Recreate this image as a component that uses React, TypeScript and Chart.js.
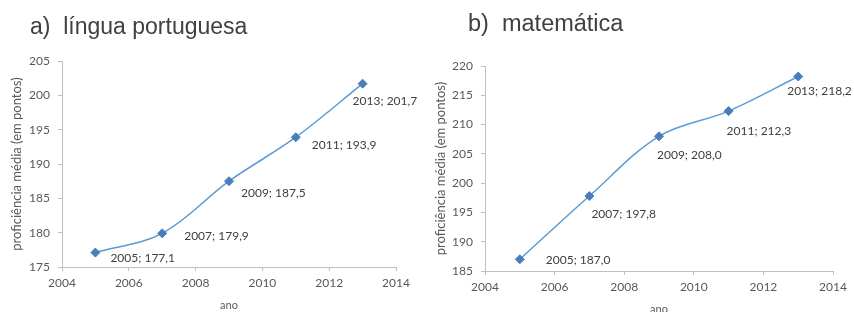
import React, { useEffect, useRef } from "react";
import { Chart, registerables } from "chart.js";

Chart.register(...registerables);

const years = [2005, 2007, 2009, 2011, 2013];
const portuguesaValues = [177.1, 179.9, 187.5, 193.9, 201.7];
const matematicaValues = [187.0, 197.8, 208.0, 212.3, 218.2];
const xTickValues = [2004, 2006, 2008, 2010, 2012, 2014];
const portuguesaYTicks = [175, 180, 185, 190, 195, 200, 205];
const matematicaYTicks = [185, 190, 195, 200, 205, 210, 215, 220];
const yAxisTitle = "proficiência média (em pontos)";
const xAxisTitle = "ano";
const titleA = "a)  língua portuguesa";
const titleB = "b)  matemática";

const FONT = "Lato, 'Open Sans', sans-serif";
const AXIS_COLOR = "#bfbfbf";
const TICK_COLOR = "#595959";
const LABEL_COLOR = "#404040";

type Geom = {
  yAxisWidth: number;
  xAxisHeight: number;
  padTop: number;
  padRight: number;
  yTitlePad: number;
  xTitlePad: number;
};

type PanelProps = {
  left: number;
  values: number[];
  yTicks: number[];
  geom: Geom;
  offsets: number[][];
};

function Panel({ left, values, yTicks, geom, offsets }: PanelProps) {
  const ref = useRef<HTMLCanvasElement>(null);
  useEffect(() => {
    if (!ref.current) return;
    const labelPlugin = {
      id: "pointLabels",
      afterDatasetsDraw(chart: any) {
        const ctx = chart.ctx;
        const meta = chart.getDatasetMeta(0);
        ctx.save();
        ctx.font = `12px ${FONT}`;
        ctx.fillStyle = LABEL_COLOR;
        ctx.textAlign = "left";
        ctx.textBaseline = "middle";
        meta.data.forEach((pt: any, i: number) => {
          const text = `${years[i]}; ${values[i].toFixed(1).replace(".", ",")}`;
          ctx.fillText(text, pt.x + offsets[i][0], pt.y + offsets[i][1]);
        });
        ctx.restore();
      },
    };
    const chart = new Chart(ref.current, {
      type: "line",
      data: {
        datasets: [
          {
            data: years.map((y, i) => ({ x: y, y: values[i] })),
            borderColor: "#5b9bd5",
            borderWidth: 1.5,
            tension: 0.35,
            pointStyle: "rectRot",
            pointRadius: 4.5,
            pointBackgroundColor: "#4a7ebb",
            pointBorderColor: "#4a7ebb",
            pointBorderWidth: 1,
          },
        ],
      },
      options: {
        responsive: false,
        animation: false,
        devicePixelRatio: 1,
        layout: {
          padding: { top: geom.padTop, right: geom.padRight, left: 0, bottom: 0 },
        },
        plugins: {
          legend: { display: false },
          tooltip: { enabled: false },
          title: { display: false },
        },
        scales: {
          x: {
            type: "linear",
            min: xTickValues[0],
            max: xTickValues[xTickValues.length - 1],
            afterBuildTicks: (s: any) => {
              s.ticks = xTickValues.map((v) => ({ value: v }));
            },
            afterFit: (s: any) => {
              s.height = geom.xAxisHeight;
            },
            ticks: {
              callback: (v: any) => String(v),
              color: TICK_COLOR,
              font: { family: FONT, size: 12 },
              padding: 5,
              maxRotation: 0,
              autoSkip: false,
            },
            grid: { drawOnChartArea: false, tickLength: 4, color: AXIS_COLOR },
            border: { color: AXIS_COLOR },
            title: {
              display: true,
              text: xAxisTitle,
              color: TICK_COLOR,
              font: { family: FONT, size: 11 },
              padding: { top: 0, bottom: geom.xTitlePad },
            },
          },
          y: {
            type: "linear",
            min: yTicks[0],
            max: yTicks[yTicks.length - 1],
            afterBuildTicks: (s: any) => {
              s.ticks = yTicks.map((v) => ({ value: v }));
            },
            afterFit: (s: any) => {
              s.width = geom.yAxisWidth;
            },
            ticks: {
              callback: (v: any) => String(v),
              color: TICK_COLOR,
              font: { family: FONT, size: 12 },
              padding: 8,
              autoSkip: false,
            },
            grid: { drawOnChartArea: false, tickLength: 4, color: AXIS_COLOR },
            border: { color: AXIS_COLOR },
            title: {
              display: true,
              text: yAxisTitle,
              color: TICK_COLOR,
              font: { family: FONT, size: 13 },
              padding: { top: geom.yTitlePad, bottom: 0 },
            },
          },
        },
      },
      plugins: [labelPlugin],
    } as any);
    return () => chart.destroy();
  }, []);
  return (
    <canvas
      ref={ref}
      width={427}
      height={312}
      style={{ position: "absolute", left, top: 0, width: 427, height: 312 }}
    />
  );
}

const titleStyle: React.CSSProperties = {
  position: "absolute",
  fontFamily: "'Liberation Sans', Arial, sans-serif",
  fontSize: 23,
  lineHeight: 1,
  color: "#404040",
  whiteSpace: "pre",
};

export default function App() {
  return (
    <div
      style={{
        position: "absolute",
        left: 0,
        top: 0,
        width: 854,
        height: 312,
        background: "#ffffff",
        overflow: "hidden",
      }}
    >
      <Panel
        left={0}
        values={portuguesaValues}
        yTicks={portuguesaYTicks}
        geom={{ yAxisWidth: 62, xAxisHeight: 45, padTop: 61, padRight: 31, yTitlePad: 9, xTitlePad: 0 }}
        offsets={[
          [15, 6],
          [22, 3],
          [12, 12],
          [16, 8],
          [-10, 17],
        ]}
      />
      <Panel
        left={427}
        values={matematicaValues}
        yTicks={matematicaYTicks}
        geom={{ yAxisWidth: 58, xAxisHeight: 41, padTop: 66, padRight: 21, yTitlePad: 6.5, xTitlePad: -4 }}
        offsets={[
          [26, 1],
          [2, 18],
          [-2, 19],
          [-2, 20],
          [-11, 15],
        ]}
      />
      <div style={{ ...titleStyle, left: 30, top: 14.5 }}>{titleA}</div>
      <div style={{ ...titleStyle, left: 468, top: 12, fontSize: 23.5 }}>{titleB}</div>
    </div>
  );
}
